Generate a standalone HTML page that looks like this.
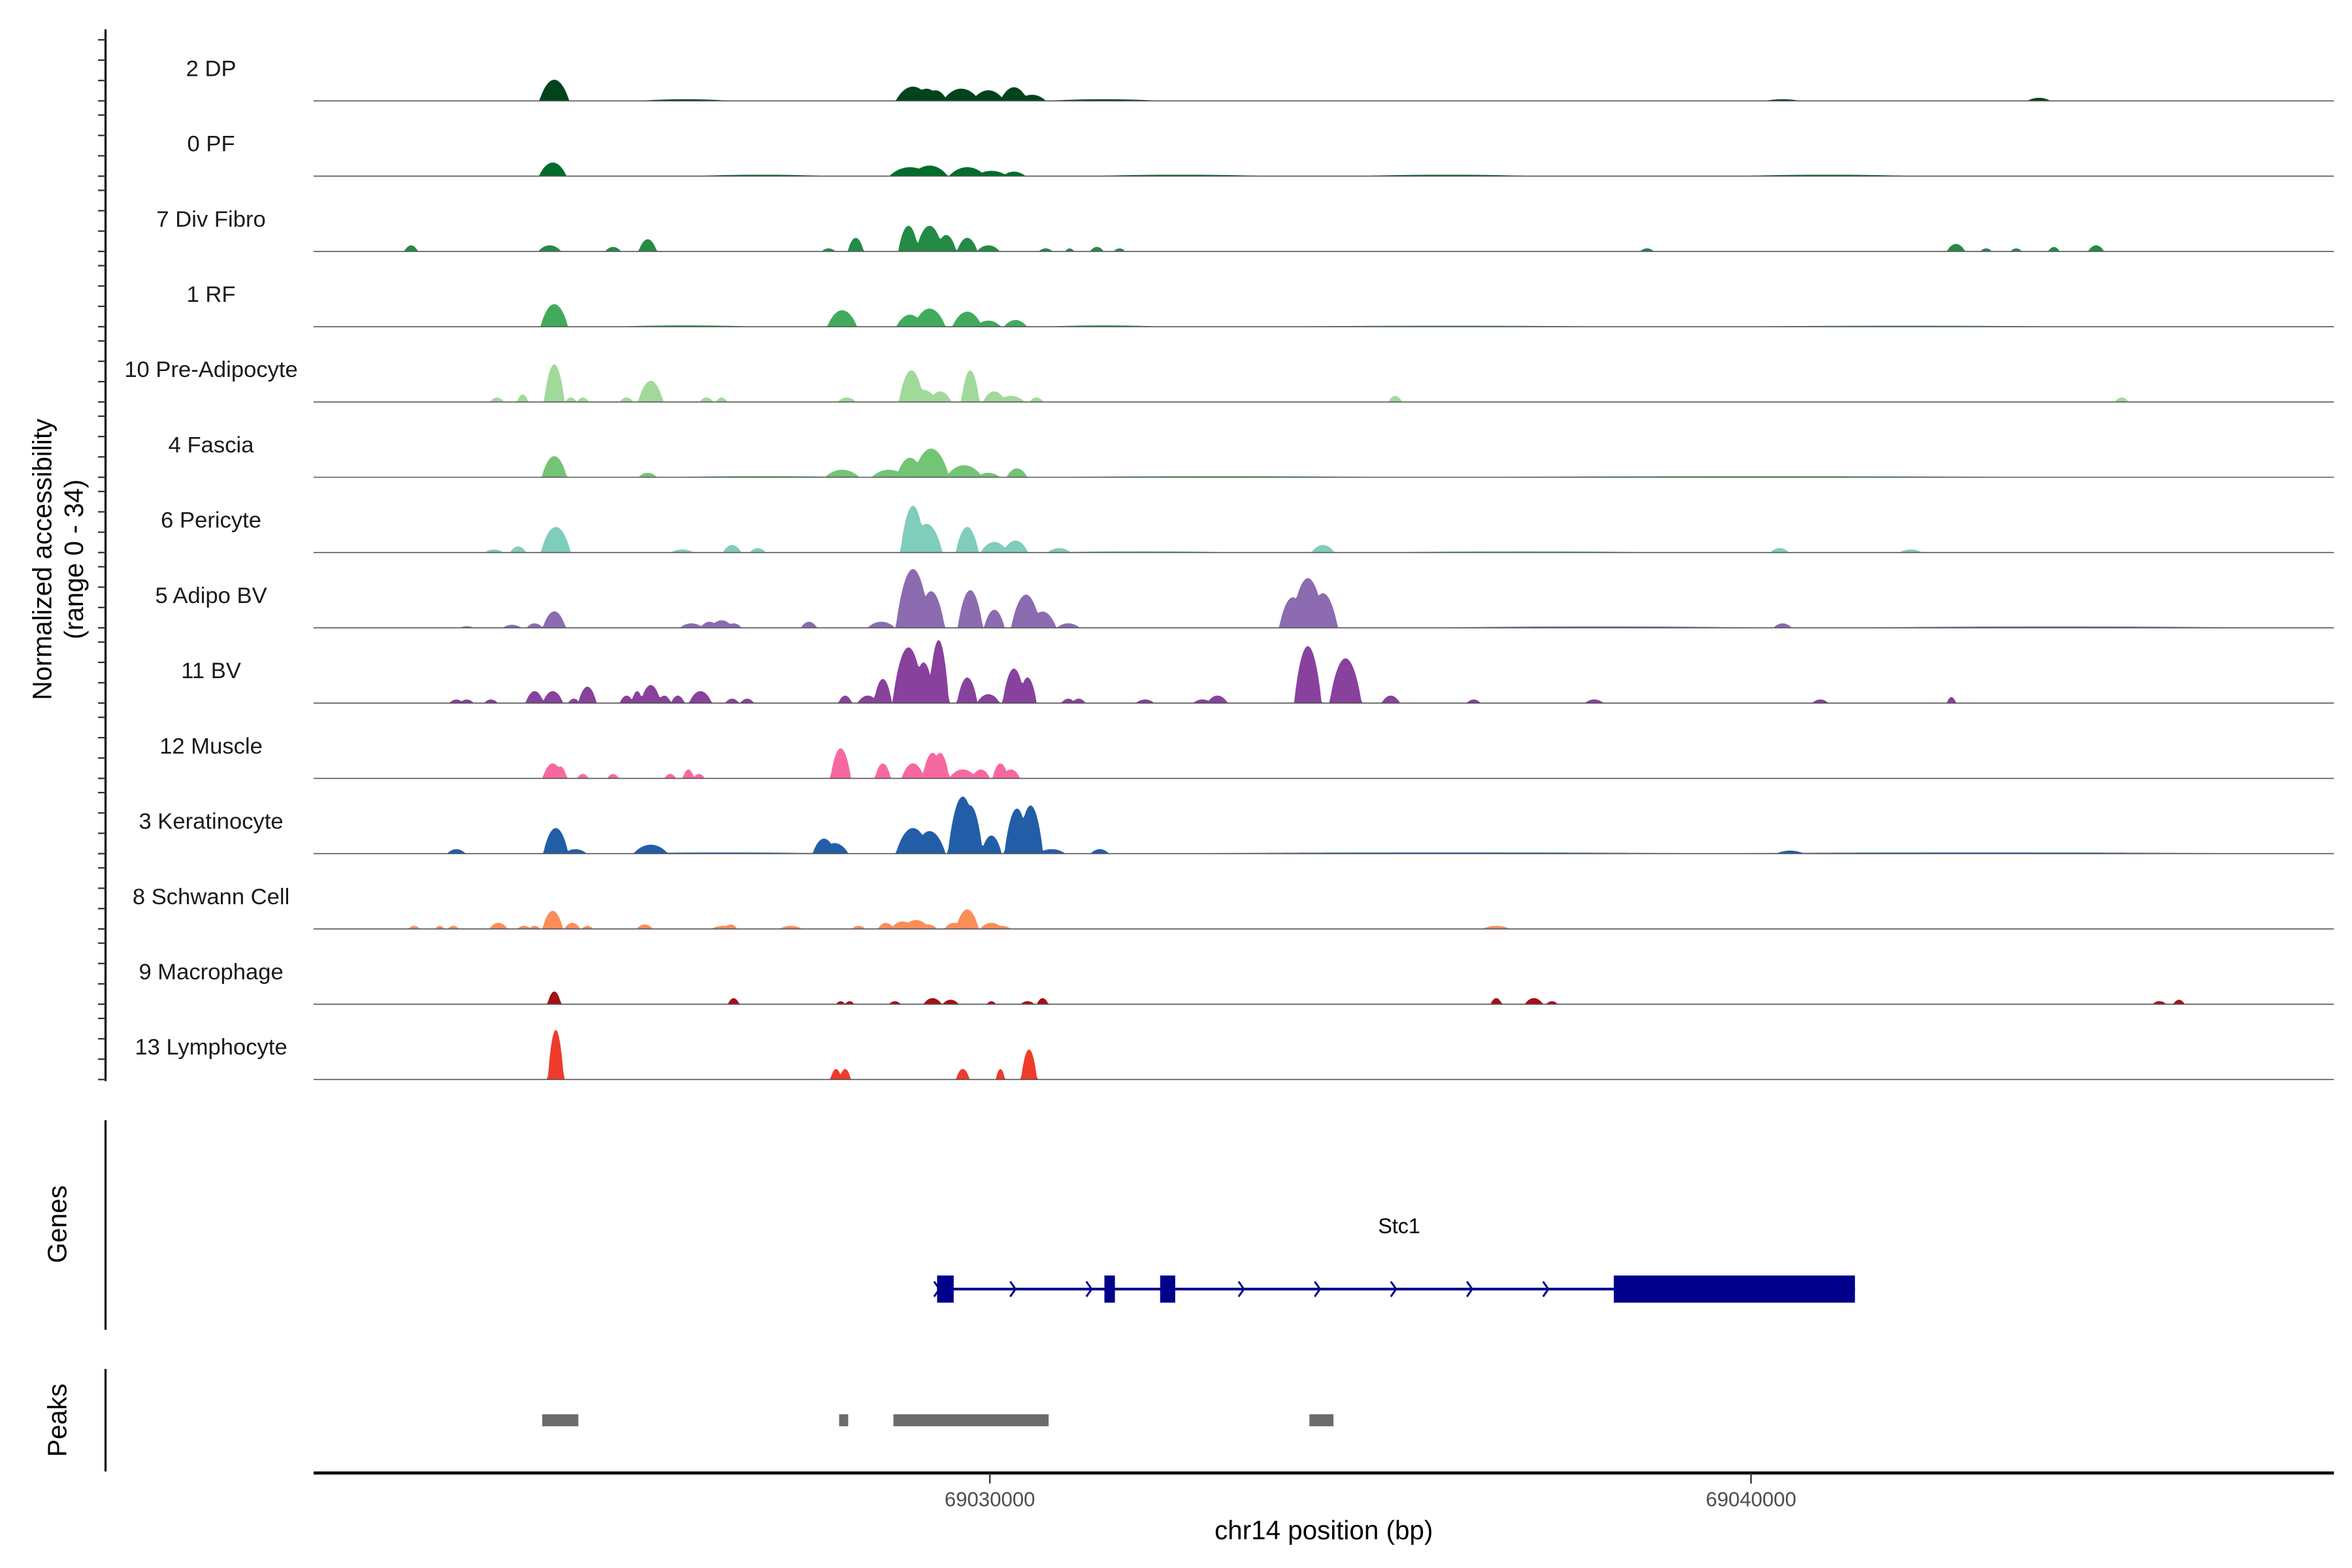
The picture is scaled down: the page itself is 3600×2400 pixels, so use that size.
<!DOCTYPE html>
<html><head><meta charset="utf-8">
<style>
html,body{margin:0;padding:0;background:#fff;}
svg{display:block;}
text{font-family:"Liberation Sans",sans-serif;}
</style></head>
<body>
<svg id="chart" xmlns="http://www.w3.org/2000/svg" width="3600" height="2400" viewBox="0 0 1560 1040">
<rect x="0" y="0" width="1560" height="1040" fill="#fff"/>
<g id="tracks"></g>
<g id="labels"></g>
<line x1="70" y1="19.5" x2="70" y2="717" stroke="#000" stroke-width="1.4"/>
<g id="yticks"></g>
<text transform="translate(34,371) rotate(-90)" text-anchor="middle" font-size="17.5" fill="#000">Normalized accessibility</text>
<text transform="translate(55,371) rotate(-90)" text-anchor="middle" font-size="17.5" fill="#000">(range 0 - 34)</text>

<line x1="70" y1="743" x2="70" y2="882" stroke="#000" stroke-width="1.4"/>
<text transform="translate(44,812) rotate(-90)" text-anchor="middle" font-size="17.5" fill="#000">Genes</text>
<g id="gene"></g>
<text x="928" y="818" text-anchor="middle" font-size="14" fill="#000">Stc1</text>

<line x1="70" y1="908" x2="70" y2="976" stroke="#000" stroke-width="1.4"/>
<text transform="translate(44,942) rotate(-90)" text-anchor="middle" font-size="17.5" fill="#000">Peaks</text>
<g id="peaks"></g>

<line x1="208" y1="977" x2="1548" y2="977" stroke="#000" stroke-width="2"/>
<g id="xticks"></g>
<text x="878" y="1021" text-anchor="middle" font-size="17.5" fill="#000">chr14 position (bp)</text>
</svg>
<script>
const NS = "http://www.w3.org/2000/svg";
const regionStart = 69021116;
const regionEnd = 69047657;
const xTicks = [69030000, 69040000];
const xTickLabels = ["69030000", "69040000"];
const yMax = 34;
const yTickValues = [0, 10, 20, 30];
const trackNames = ["2 DP","0 PF","7 Div Fibro","1 RF","10 Pre-Adipocyte","4 Fascia","6 Pericyte","5 Adipo BV","11 BV","12 Muscle","3 Keratinocyte","8 Schwann Cell","9 Macrophage","13 Lymphocyte"];
const trackColors = ["#00441b","#006d2c","#238b45","#41ab5d","#a1d99b","#74c476","#7fcdbb","#8c6bb1","#88419d","#f768a1","#225ea8","#fc8d59","#a50f15","#ef3b2c"];
// peaks per track: [center bp, height (0-34), half-width bp]
const peaksDP = [[69024278,10.4,130],[69028990,7,150],[69029168,6,120],[69029287,5.2,100],[69029624,6,160],[69029980,5.2,140],[69030317,6.7,120],[69030554,3,120],[69043781,1.5,100],[69040415,0.8,150],[69026000,0.8,400],[69031500,0.8,500]];
const peaksPF = [[69024258,6.7,120],[69028951,4.4,180],[69029208,5.2,160],[69029703,4.4,160],[69030020,2.6,140],[69030317,2.2,100],[69027000,0.7,600],[69032500,0.7,800],[69036000,0.7,800],[69041000,0.7,800]];
const peaksDivFibro = [[69022397,3,60],[69024218,3,100],[69025050,2.2,70],[69025505,6,80],[69027881,1.5,60],[69028238,6.7,70],[69028931,12.6,90],[69029208,12.6,120],[69029426,8.1,90],[69029703,6.7,90],[69029980,3,100],[69030733,1.5,60],[69031049,1.5,40],[69031406,2.2,60],[69031703,1.5,50],[69038633,1.5,60],[69042692,3.7,80],[69043088,1.5,50],[69043484,1.5,50],[69043979,2.2,50],[69044533,3,70]];
const peaksRF = [[69024278,11.1,120],[69028060,8.1,130],[69028951,5.9,120],[69029208,8.9,140],[69029703,7.4,130],[69029980,3,110],[69030337,3.3,100],[69026000,0.7,600],[69031500,0.7,500],[69036000,0.5,1500],[69042000,0.5,1500]];
const peaksPreAdipo = [[69023525,2.2,60],[69023862,3.7,50],[69024278,18.5,90],[69024496,2.2,50],[69024654,2.2,50],[69025228,2.2,60],[69025545,10.4,110],[69026278,2.2,60],[69026476,2.2,50],[69028119,2.2,80],[69028970,15.6,110],[69029129,6,120],[69029347,5.2,100],[69029743,15.6,80],[69030059,5.2,100],[69030277,3,120],[69030614,2.2,60],[69035326,3,60],[69044870,2.2,60]];
const peaksFascia = [[69024278,10.4,110],[69025505,2.2,80],[69028060,3.7,150],[69028673,3.7,150],[69028951,9.6,120],[69029228,14.1,160],[69029663,5.9,160],[69029980,2.2,100],[69030356,4.4,90],[69027000,0.6,800],[69033000,0.6,1500],[69040000,0.6,2500]];
const peaksPericyte = [[69023486,1.5,80],[69023803,3,70],[69024298,12.6,130],[69025961,1.5,100],[69026614,3.7,80],[69026951,2.2,70],[69028990,23,110],[69029168,14.1,140],[69029703,12.6,100],[69030059,5.2,120],[69030337,5.9,110],[69030911,2.2,100],[69034376,3.7,100],[69040375,2.2,80],[69042098,1.5,100],[69032000,0.7,800],[69037000,0.7,1200]];
const peaksAdipoBV = [[69023129,0.8,60],[69023723,1.5,80],[69024020,2.2,70],[69024278,8.1,100],[69026080,2.2,100],[69026317,3,80],[69026476,3.7,100],[69026634,2.2,70],[69027624,3,70],[69028574,3,120],[69028990,28.9,150],[69029228,18,120],[69029743,18.5,110],[69030059,8.9,90],[69030475,16.3,130],[69030693,8,120],[69031030,2.2,100],[69033980,15,120],[69034178,24.4,150],[69034376,17,130],[69040415,2.2,80],[69038000,0.7,1500],[69044000,0.7,1800]];
const peaksBV = [[69022991,1.8,60],[69023129,1.8,60],[69023446,1.8,60],[69024020,5.9,80],[69024258,5.9,90],[69024535,2.2,50],[69024713,8.1,80],[69025228,3.7,60],[69025367,5.9,50],[69025545,8.9,90],[69025723,3.7,60],[69025901,3.7,60],[69026198,5.9,100],[69026614,2.2,60],[69026812,2.2,60],[69028099,3.7,60],[69028396,3.7,90],[69028594,11.9,80],[69028931,27.4,140],[69029129,20,100],[69029327,31,90],[69029703,12.6,90],[69029980,4.4,100],[69030317,17,100],[69030495,12.6,80],[69031030,2.2,60],[69031168,2.2,60],[69032039,1.8,80],[69032792,1.8,80],[69032990,3.7,90],[69034178,28,120],[69034673,22,140],[69035267,3.7,80],[69036356,1.8,60],[69037940,1.8,80],[69040910,1.8,70],[69042632,3,40]];
const peaksMuscle = [[69024258,7.4,90],[69024357,5.9,60],[69024654,2.2,50],[69025050,2.2,50],[69025802,2.2,50],[69026040,4.4,50],[69026179,2.2,50],[69028040,14.8,90],[69028594,7.4,70],[69028990,7.4,100],[69029248,12.6,90],[69029347,12.6,80],[69029644,4.4,120],[69029881,4.4,80],[69030139,7.4,70],[69030277,4.4,80]];
const peaksKeratinocyte = [[69022991,2.2,80],[69024298,12.6,110],[69024555,2.2,100],[69025545,4.4,150],[69027822,7.4,100],[69027961,5.2,120],[69028990,12.6,150],[69029208,11.1,140],[69029644,28.1,130],[69029743,23.7,110],[69030020,8.9,90],[69030356,22.2,110],[69030535,23.7,110],[69030812,2.2,120],[69031445,2.2,80],[69040514,1.5,120],[69026500,0.6,1000],[69036000,0.6,2500],[69043000,0.6,2500]];
const peaksSchwann = [[69022436,1.5,50],[69022773,1.5,40],[69022951,1.5,50],[69023545,3,80],[69023882,1.5,60],[69024020,1.5,50],[69024258,8.9,90],[69024515,3,70],[69024713,1.5,50],[69025466,2.2,70],[69026495,1.5,100],[69026594,2.2,60],[69027386,1.5,100],[69028277,1.5,60],[69028634,3,70],[69028852,3.7,100],[69029030,4.4,120],[69029188,2.2,80],[69029525,3,80],[69029703,9.6,100],[69030020,3,100],[69030158,1.5,80],[69036653,1.5,120]];
const peaksMacrophage = [[69024278,6.3,60],[69026634,3,50],[69028040,1.5,40],[69028159,1.5,40],[69028753,1.5,50],[69029248,3,80],[69029485,2.2,70],[69030020,1.5,40],[69030495,1.5,60],[69030693,3,50],[69036653,3,50],[69037148,3,80],[69037385,1.5,50],[69045365,1.5,60],[69045622,2.2,50]];
const peaksLymphocyte = [[69024298,24.4,70],[69027980,5.2,50],[69028099,5.2,50],[69029644,5.2,60],[69030139,5.2,40],[69030515,14.8,70]];
const geneStart = 69029307;
const geneEnd = 69041365;
const geneExons = [[69029307,69029525],[69031505,69031643],[69032237,69032435],[69038197,69041365]];
const peakRegions = [[69024119,69024594],[69028020,69028139],[69028733,69030772],[69034198,69034514]];

const allPeaks = [peaksDP,peaksPF,peaksDivFibro,peaksRF,peaksPreAdipo,peaksFascia,peaksPericyte,peaksAdipoBV,peaksBV,peaksMuscle,peaksKeratinocyte,peaksSchwann,peaksMacrophage,peaksLymphocyte];

const plotLeft = 208, plotRight = 1548;
function xScale(bp){ return plotLeft + (bp - regionStart) / (regionEnd - regionStart) * (plotRight - plotLeft); }
const trackTop0 = 66.9, trackStep = 49.93, trackPx = 45.9;
function baseY(i){ return trackTop0 + i * trackStep; }
function yScale(v, i){ return baseY(i) - v / yMax * trackPx; }
function mk(tag, attrs, parent){ const e = document.createElementNS(NS, tag); for (const k in attrs) e.setAttribute(k, attrs[k]); parent.appendChild(e); return e; }

const tracksG = document.getElementById('tracks');
const labelsG = document.getElementById('labels');
const yticksG = document.getElementById('yticks');
const binBp = 20;
const widthScale = 1.5;
for (let i = 0; i < allPeaks.length; i++){
  const pk = allPeaks[i];
  let d = "M" + xScale(regionStart).toFixed(2) + "," + baseY(i).toFixed(2);
  for (let bp = regionStart; bp <= regionEnd; bp += binBp){
    let v = 0;
    for (const p of pk){
      const t = (bp - p[0]) / (p[2] * widthScale);
      if (Math.abs(t) < 1){ const s = p[1] * Math.pow(1 - t*t, 0.9); if (s > v) v = s; }
    }
    d += "L" + xScale(bp).toFixed(2) + "," + yScale(v, i).toFixed(2);
  }
  d += "L" + xScale(regionEnd).toFixed(2) + "," + baseY(i).toFixed(2) + "Z";
  const area = mk('path', {d: d, fill: trackColors[i], stroke: 'none'}, tracksG);
  
  
  const bl = mk('line', {x1: plotLeft, x2: plotRight, y1: baseY(i), y2: baseY(i), stroke: '#555', 'stroke-width': 0.7}, tracksG);
  
  
  const lab = mk('text', {x: 140, y: baseY(i) - 16.5, 'text-anchor': 'middle', 'font-size': 15, fill: '#1a1a1a'}, labelsG);
  lab.textContent = trackNames[i];
  
  
  for (const tv of yTickValues){
    const ty = yScale(tv, i);
    const tk = mk('line', {x1: 65, x2: 70, y1: ty, y2: ty, stroke: '#333', 'stroke-width': 1}, yticksG);
    
    
  }
}

// gene model
const geneG = document.getElementById('gene');
const gy = 855;
const gl = mk('line', {x1: xScale(geneStart), x2: xScale(geneEnd), y1: gy, y2: gy, stroke: '#00008b', 'stroke-width': 1.8}, geneG);


for (let k = 0; geneStart + k*1000 < geneEnd; k++){
  const bp = geneStart + k*1000;
  const cx = xScale(bp);
  const ch = mk('path', {d: 'M' + (cx-2) + ',' + (gy-5) + 'L' + (cx+1.5) + ',' + gy + 'L' + (cx-2) + ',' + (gy+5), fill: 'none', stroke: '#00008b', 'stroke-width': 1.3}, geneG);
  
  
}
for (const ex of geneExons){
  const r = mk('rect', {x: xScale(ex[0]), y: gy - 9, width: xScale(ex[1]) - xScale(ex[0]), height: 18, fill: '#00008b'}, geneG);
  
  
}

// peaks
const peaksG = document.getElementById('peaks');
for (const pr of peakRegions){
  const r = mk('rect', {x: xScale(pr[0]), y: 938, width: xScale(pr[1]) - xScale(pr[0]), height: 8, fill: '#6b6b6b'}, peaksG);
  
  
}

// x ticks
const xticksG = document.getElementById('xticks');
for (let k = 0; k < xTicks.length; k++){
  const tx = xScale(xTicks[k]);
  const t = mk('line', {x1: tx, x2: tx, y1: 977, y2: 984, stroke: '#333', 'stroke-width': 1}, xticksG);
  
  
  const tl = mk('text', {x: tx, y: 999, 'text-anchor': 'middle', 'font-size': 13.5, fill: '#4d4d4d'}, xticksG);
  tl.textContent = xTickLabels[k];
  
  
}
</script>
</body></html>
